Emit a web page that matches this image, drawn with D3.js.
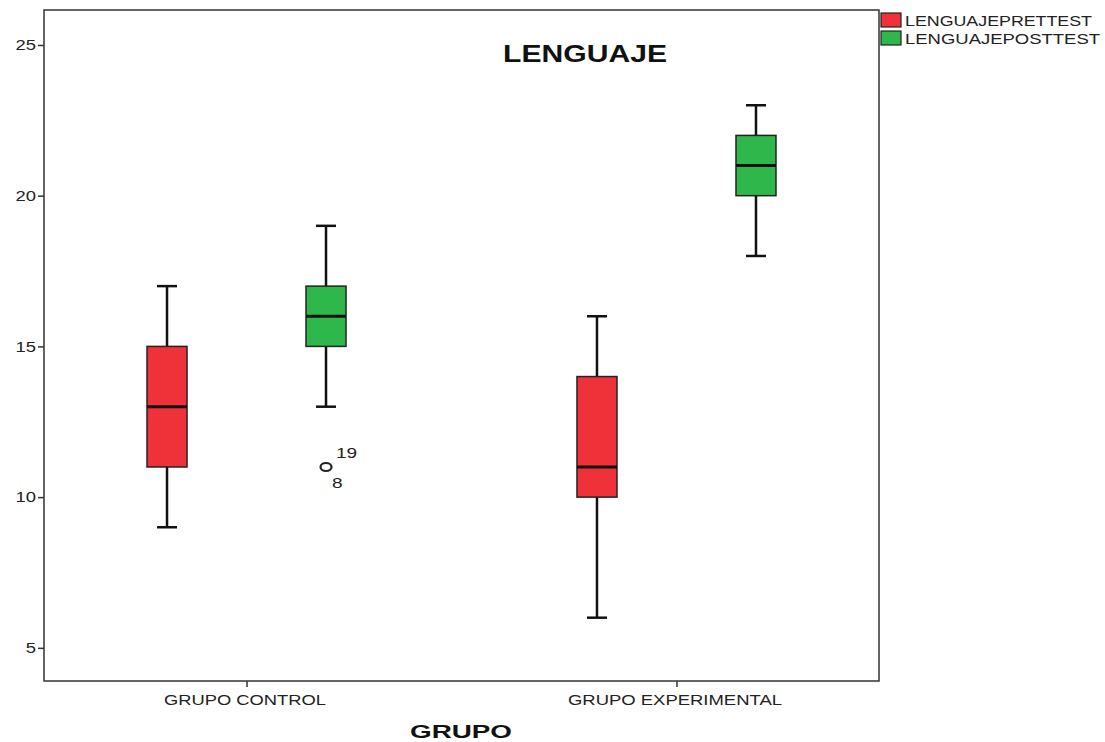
<!DOCTYPE html>
<html>
<head>
<meta charset="utf-8">
<script src="https://cdn.jsdelivr.net/npm/d3@7"></script>
<style>
  body { margin: 0; background: #fff; }
  text { font-family: Arial, "Liberation Sans", sans-serif; }
</style>
</head>
<body>
<svg id="chart" width="1105" height="742"></svg>
<script>
const groups = ["GRUPO CONTROL", "GRUPO EXPERIMENTAL"]
const seriesNames = ["LENGUAJEPRETTEST", "LENGUAJEPOSTTEST"]
const colors = ["#ef3139", "#2eb84b"]

// [min, q1, median, q3, max] for each group, per series
const pretest = [[9, 11, 13, 15, 17], [6, 10, 11, 14, 16]]
const posttest = [[13, 15, 16, 17, 19], [18, 20, 21, 22, 23]]

// outliers: group index, series index, value, case labels
const outliers = [{ g: 0, s: 1, v: 11, labels: ["19", "8"] }]

const yTicks = [5, 10, 15, 20, 25]

const svg = d3.select("#chart")
const plotL = 44, plotR = 879, plotT = 10, plotB = 681

// the original picture has its text stretched sideways
function widen(sel, k = 1.27) {
  sel.each(function() {
    let w = this.getComputedTextLength()
    d3.select(this).attr("textLength", w * k).attr("lengthAdjust", "spacingAndGlyphs")
  })
}
function fitTo(sel, w) {
  sel.attr("textLength", w).attr("lengthAdjust", "spacingAndGlyphs")
}

let y = d3.scaleLinear().domain([3.9, 26.16]).range([plotB, plotT])
let x = d3.scalePoint().domain(groups).range([plotL, plotR]).padding(0.471)

let offset = 79.5, boxW = 40

// frame
svg.append("rect")
  .attr("x", plotL).attr("y", plotT)
  .attr("width", plotR - plotL).attr("height", plotB - plotT)
  .attr("fill", "none").attr("stroke", "#333").attr("stroke-width", 1.5)

// y axis
let yAxis = svg.append("g")
  .attr("transform", `translate(${plotL},0)`)
  .call(d3.axisLeft(y).tickValues(yTicks).tickSize(6).tickPadding(2).tickFormat(d3.format("d")))
yAxis.select(".domain").remove()
yAxis.selectAll("line").attr("stroke", "#333").attr("stroke-width", 1.5)
yAxis.selectAll("text").attr("font-size", 14.5).attr("fill", "#222")
  .attr("font-family", "Arial, 'Liberation Sans', sans-serif")
  .call(widen)

// x axis
let xLabelW = [162, 214]
let xAxis = svg.append("g")
  .attr("transform", `translate(0,${plotB})`)
  .call(d3.axisBottom(x).tickSize(6).tickPadding(8))
xAxis.select(".domain").remove()
xAxis.selectAll("line").attr("stroke", "#333").attr("stroke-width", 1.5)
xAxis.selectAll("text").attr("font-size", 14).attr("fill", "#222")
  .attr("font-family", "Arial, 'Liberation Sans', sans-serif")
  .attr("dx", -2)
  .each(function(d, i) { fitTo(d3.select(this), xLabelW[i]) })

let series = [pretest, posttest]
series.forEach((data, s) => {
  data.forEach((d, g) => {
    let cx = x(groups[g]) + (s === 0 ? -offset : offset)
    let grp = svg.append("g")
    // whiskers
    grp.append("line")
      .attr("x1", cx).attr("x2", cx).attr("y1", y(d[0])).attr("y2", y(d[4]))
      .attr("stroke", "#111").attr("stroke-width", 2.5)
    ;[d[0], d[4]].forEach(v => {
      grp.append("line")
        .attr("x1", cx - 10).attr("x2", cx + 10).attr("y1", y(v)).attr("y2", y(v))
        .attr("stroke", "#111").attr("stroke-width", 2.5)
    })
    grp.append("rect")
      .attr("x", cx - boxW / 2).attr("y", y(d[3]))
      .attr("width", boxW).attr("height", y(d[1]) - y(d[3]))
      .attr("fill", colors[s]).attr("stroke", "#222").attr("stroke-width", 1.5)
    grp.append("line")
      .attr("x1", cx - boxW / 2).attr("x2", cx + boxW / 2)
      .attr("y1", y(d[2])).attr("y2", y(d[2]))
      .attr("stroke", "#111").attr("stroke-width", 3)
  })
})

outliers.forEach(o => {
  let cx = x(groups[o.g]) + (o.s === 0 ? -offset : offset)
  svg.append("ellipse")
    .attr("cx", cx).attr("cy", y(o.v))
    .attr("rx", 5.5).attr("ry", 4)
    .attr("fill", "none").attr("stroke", "#222").attr("stroke-width", 2.2)
  svg.append("text")
    .attr("x", cx + 10).attr("y", y(o.v) - 9)
    .attr("font-size", 15).attr("fill", "#222")
    .text(o.labels[0]).call(widen)
  svg.append("text")
    .attr("x", cx + 6).attr("y", y(o.v) + 21)
    .attr("font-size", 15).attr("fill", "#222")
    .text(o.labels[1]).call(widen)
})

// title
svg.append("text")
  .attr("x", 585).attr("y", 62)
  .attr("text-anchor", "middle")
  .attr("font-size", 23).attr("font-weight", "bold").attr("fill", "#111")
  .text("LENGUAJE").call(fitTo, 164)

// x axis title
svg.append("text")
  .attr("x", 461).attr("y", 738)
  .attr("text-anchor", "middle")
  .attr("font-size", 18.5).attr("font-weight", "bold").attr("fill", "#111")
  .text("GRUPO").call(fitTo, 102)

// legend
let legendW = [187, 195]
seriesNames.forEach((name, i) => {
  let ly = 13 + i * 18
  svg.append("rect")
    .attr("x", 881).attr("y", ly)
    .attr("width", 20).attr("height", 14)
    .attr("fill", colors[i]).attr("stroke", "#222").attr("stroke-width", 1.2)
  svg.append("text")
    .attr("x", 905).attr("y", ly + 13)
    .attr("font-size", 15).attr("fill", "#222")
    .text(name).call(fitTo, legendW[i])
})
</script>
</body>
</html>
